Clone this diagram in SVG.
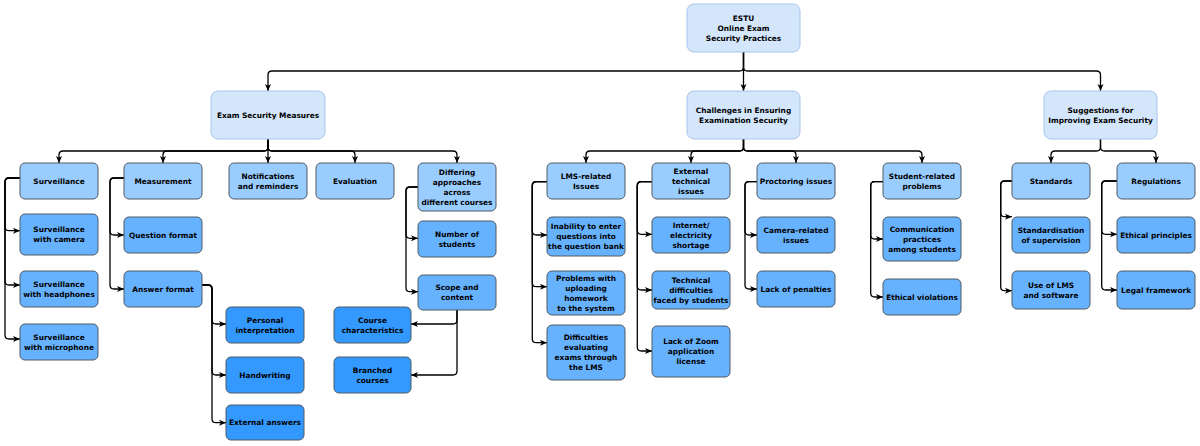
<svg xmlns="http://www.w3.org/2000/svg" width="1200" height="446" viewBox="0 0 1200 446">
<defs>
<marker id="arr" markerUnits="userSpaceOnUse" markerWidth="8" markerHeight="7" refX="7" refY="3" orient="auto" overflow="visible">
<path d="M0,0 L7,3 L0,6 L1.8,3 Z" fill="#000"/>
</marker>
<style>
.top{fill:#d4e6fc;stroke:#a9c4eb;stroke-width:1}
.l2{fill:#99ccff;stroke:#4f5b66;stroke-width:1}
.l3{fill:#66b2ff;stroke:#4f5b66;stroke-width:1}
.l4{fill:#3399ff;stroke:#4f5b66;stroke-width:1}
text{font-family:"DejaVu Sans","Verdana",sans-serif;font-weight:bold;font-size:7.4px;fill:#000;text-anchor:middle}
#connectors path{fill:none;stroke:#000;stroke-width:1.3;marker-end:url(#arr)}
</style>
</defs>
<rect width="1200" height="446" fill="#fff"/>

<g id="connectors">
<path d="M743.5,52 V67 Q743.5,71 739.5,71 H272 Q268,71 268,75 V91"/>
<path d="M743.5,52 V91"/>
<path d="M743.5,52 V67 Q743.5,71 747.5,71 H1096.5 Q1100.5,71 1100.5,75 V91"/>

<path d="M268,139 V147 Q268,151 264,151 H63 Q59,151 59,155 V163"/>
<path d="M268,139 V147 Q268,151 264,151 H167 Q163,151 163,155 V163"/>
<path d="M268,139 V163"/>
<path d="M268,139 V147 Q268,151 272,151 H351 Q355,151 355,155 V163"/>
<path d="M268,139 V147 Q268,151 272,151 H453 Q457,151 457,155 V163"/>

<path d="M20,178 H9 Q5,178 5,182 V226.7 Q5,230.7 9,230.7 H20"/>
<path d="M20,178 H9 Q5,178 5,182 V281 Q5,285 9,285 H20"/>
<path d="M20,178 H9 Q5,178 5,182 V335 Q5,339 9,339 H20"/>

<path d="M124,178 H114 Q110,178 110,182 V231 Q110,235 114,235 H124"/>
<path d="M124,178 H114 Q110,178 110,182 V285 Q110,289 114,289 H124"/>

<path d="M202,285 H208 Q212,285 212,289 V320 Q212,324 216,324 H226"/>
<path d="M202,285 H208 Q212,285 212,289 V371 Q212,375 216,375 H226"/>
<path d="M202,285 H208 Q212,285 212,289 V418.7 Q212,422.7 216,422.7 H226"/>

<path d="M418,187 H410 Q406,187 406,191 V234.3 Q406,238.3 410,238.3 H418"/>
<path d="M418,187 H410 Q406,187 406,191 V287.7 Q406,291.7 410,291.7 H418"/>

<path d="M457,310 V320 Q457,324 453,324 H411"/>
<path d="M457,310 V371 Q457,375 453,375 H411"/>

<path d="M743.5,139 V147 Q743.5,151 739.5,151 H590 Q586,151 586,155 V163"/>
<path d="M743.5,139 V147 Q743.5,151 739.5,151 H695 Q691,151 691,155 V163"/>
<path d="M743.5,139 V147 Q743.5,151 747.5,151 H792 Q796,151 796,155 V163"/>
<path d="M743.5,139 V147 Q743.5,151 747.5,151 H918 Q922,151 922,155 V163"/>

<path d="M547,181.7 H536.3 Q532.3,181.7 532.3,185.7 V231 Q532.3,235 536.3,235 H547"/>
<path d="M547,181.7 H536.3 Q532.3,181.7 532.3,185.7 V282.7 Q532.3,286.7 536.3,286.7 H547"/>
<path d="M547,181.7 H536.3 Q532.3,181.7 532.3,185.7 V338.7 Q532.3,342.7 536.3,342.7 H547"/>

<path d="M652,181.7 H641.3 Q637.3,181.7 637.3,185.7 V230.3 Q637.3,234.3 641.3,234.3 H652"/>
<path d="M652,181.7 H641.3 Q637.3,181.7 637.3,185.7 V286 Q637.3,290 641.3,290 H652"/>
<path d="M652,181.7 H641.3 Q637.3,181.7 637.3,185.7 V347 Q637.3,351 641.3,351 H652"/>

<path d="M757,181.7 H749 Q745,181.7 745,185.7 V231 Q745,235 749,235 H757"/>
<path d="M757,181.7 H749 Q745,181.7 745,185.7 V285 Q745,289 749,289 H757"/>

<path d="M883,181.7 H874.7 Q870.7,181.7 870.7,185.7 V235 Q870.7,239 874.7,239 H883"/>
<path d="M883,181.7 H874.7 Q870.7,181.7 870.7,185.7 V293 Q870.7,297 874.7,297 H883"/>

<path d="M1100.5,139 V147 Q1100.5,151 1096.5,151 H1055 Q1051,151 1051,155 V163"/>
<path d="M1100.5,139 V147 Q1100.5,151 1104.5,151 H1152 Q1156,151 1156,155 V163"/>

<path d="M1012,181 H1004.7 Q1000.7,181 1000.7,185 V212.7 Q1000.7,216.7 1004.7,216.7 H1012"/>
<path d="M1012,181 H1004.7 Q1000.7,181 1000.7,185 V286.7 Q1000.7,290.7 1004.7,290.7 H1012"/>

<path d="M1117,181 H1105.7 Q1101.7,181 1101.7,185 V230.3 Q1101.7,234.3 1105.7,234.3 H1117"/>
<path d="M1117,181 H1105.7 Q1101.7,181 1101.7,185 V286 Q1101.7,290 1105.7,290 H1117"/>
</g>

<g id="root"><rect class="top" x="687" y="4" width="113" height="48" rx="7"/><text><tspan x="743.5" y="20.7">ESTU</tspan><tspan x="743.5" y="30.7">Online Exam</tspan><tspan x="743.5" y="40.7">Security Practices</tspan></text></g>

<g id="esm"><rect class="top" x="211" y="91" width="114" height="48" rx="7"/><text x="268" y="117.7">Exam Security Measures</text></g>
<g id="challenges"><rect class="top" x="687" y="91" width="113" height="48" rx="7"/><text><tspan x="743.5" y="112.7">Challenges in Ensuring</tspan><tspan x="743.5" y="122.7">Examination Security</tspan></text></g>
<g id="suggestions"><rect class="top" x="1044" y="91" width="113" height="48" rx="7"/><text><tspan x="1100.5" y="112.7">Suggestions for</tspan><tspan x="1100.5" y="122.7">Improving Exam Security</tspan></text></g>

<g id="surveillance"><rect class="l2" x="20" y="163" width="78" height="36" rx="5"/><text x="59" y="183.7">Surveillance</text></g>
<g id="measurement"><rect class="l2" x="124" y="163" width="78" height="36" rx="5"/><text x="163" y="183.7">Measurement</text></g>
<g id="notifications"><rect class="l2" x="229" y="163" width="78" height="36" rx="5"/><text><tspan x="268" y="178.7">Notifications</tspan><tspan x="268" y="188.7">and reminders</tspan></text></g>
<g id="evaluation"><rect class="l2" x="316" y="163" width="78" height="36" rx="5"/><text x="355" y="183.7">Evaluation</text></g>
<g id="differing"><rect class="l2" x="418" y="163" width="78" height="48" rx="5"/><text><tspan x="457" y="174.7">Differing</tspan><tspan x="457" y="184.7">approaches</tspan><tspan x="457" y="194.7">across</tspan><tspan x="457" y="204.7">different courses</tspan></text></g>
<g id="lms"><rect class="l2" x="547" y="163" width="78" height="36" rx="5"/><text><tspan x="586" y="178.7">LMS-related</tspan><tspan x="586" y="188.7">Issues</tspan></text></g>
<g id="external"><rect class="l2" x="652" y="163" width="78" height="36" rx="5"/><text><tspan x="691" y="173.7">External</tspan><tspan x="691" y="183.7">technical</tspan><tspan x="691" y="193.7">issues</tspan></text></g>
<g id="proctoring"><rect class="l2" x="757" y="163" width="78" height="36" rx="5"/><text x="796" y="183.7">Proctoring issues</text></g>
<g id="student"><rect class="l2" x="883" y="163" width="78" height="36" rx="5"/><text><tspan x="922" y="178.7">Student-related</tspan><tspan x="922" y="188.7">problems</tspan></text></g>
<g id="standards"><rect class="l2" x="1012" y="163" width="78" height="36" rx="5"/><text x="1051" y="183.7">Standards</text></g>
<g id="regulations"><rect class="l2" x="1117" y="163" width="78" height="36" rx="5"/><text x="1156" y="183.7">Regulations</text></g>

<g id="swcamera"><rect class="l3" x="20" y="214" width="78" height="41" rx="5"/><text><tspan x="59" y="232.2">Surveillance</tspan><tspan x="59" y="242.2">with camera</tspan></text></g>
<g id="swheadphones"><rect class="l3" x="20" y="271" width="78" height="36" rx="5"/><text><tspan x="59" y="286.7">Surveillance</tspan><tspan x="59" y="296.7">with headphones</tspan></text></g>
<g id="swmicrophone"><rect class="l3" x="20" y="324" width="78" height="36" rx="5"/><text><tspan x="59" y="339.7">Surveillance</tspan><tspan x="59" y="349.7">with microphone</tspan></text></g>
<g id="questionformat"><rect class="l3" x="124" y="217" width="78" height="36" rx="5"/><text x="163" y="237.7">Question format</text></g>
<g id="answerformat"><rect class="l3" x="124" y="271" width="78" height="36" rx="5"/><text x="163" y="291.7">Answer format</text></g>
<g id="numberstudents"><rect class="l3" x="418" y="221" width="78" height="36" rx="5"/><text><tspan x="457" y="236.7">Number of</tspan><tspan x="457" y="246.7">students</tspan></text></g>
<g id="scope"><rect class="l3" x="418" y="275" width="78" height="35" rx="5"/><text><tspan x="457" y="290.2">Scope and</tspan><tspan x="457" y="300.2">content</tspan></text></g>
<g id="inability"><rect class="l3" x="547" y="217" width="78" height="39" rx="5"/><text><tspan x="586" y="229.2">Inability to enter</tspan><tspan x="586" y="239.2">questions into</tspan><tspan x="586" y="249.2">the question bank</tspan></text></g>
<g id="uploading"><rect class="l3" x="547" y="271" width="78" height="44" rx="5"/><text><tspan x="586" y="280.7">Problems with</tspan><tspan x="586" y="290.7">uploading</tspan><tspan x="586" y="300.7">homework</tspan><tspan x="586" y="310.7">to the system</tspan></text></g>
<g id="evaluating"><rect class="l3" x="547" y="325" width="78" height="55" rx="5"/><text><tspan x="586" y="340.2">Difficulties</tspan><tspan x="586" y="350.2">evaluating</tspan><tspan x="586" y="360.2">exams through</tspan><tspan x="586" y="370.2">the LMS</tspan></text></g>
<g id="internet"><rect class="l3" x="652" y="217" width="78" height="36" rx="5"/><text><tspan x="691" y="227.7">Internet/</tspan><tspan x="691" y="237.7">electricity</tspan><tspan x="691" y="247.7">shortage</tspan></text></g>
<g id="technical"><rect class="l3" x="652" y="271" width="78" height="38" rx="5"/><text><tspan x="691" y="282.7">Technical</tspan><tspan x="691" y="292.7">difficulties</tspan><tspan x="691" y="302.7">faced by students</tspan></text></g>
<g id="zoom"><rect class="l3" x="652" y="326" width="78" height="51" rx="5"/><text><tspan x="691" y="344.2">Lack of Zoom</tspan><tspan x="691" y="354.2">application</tspan><tspan x="691" y="364.2">license</tspan></text></g>
<g id="camera"><rect class="l3" x="757" y="217" width="78" height="36" rx="5"/><text><tspan x="796" y="232.7">Camera-related</tspan><tspan x="796" y="242.7">issues</tspan></text></g>
<g id="penalties"><rect class="l3" x="757" y="271" width="78" height="36" rx="5"/><text x="796" y="291.7">Lack of penalties</text></g>
<g id="communication"><rect class="l3" x="883" y="217" width="78" height="44" rx="5"/><text><tspan x="922" y="231.7">Communication</tspan><tspan x="922" y="241.7">practices</tspan><tspan x="922" y="251.7">among students</tspan></text></g>
<g id="violations"><rect class="l3" x="883" y="279" width="78" height="36" rx="5"/><text x="922" y="299.7">Ethical violations</text></g>
<g id="standardisation"><rect class="l3" x="1012" y="217" width="78" height="36" rx="5"/><text><tspan x="1051" y="232.7">Standardisation</tspan><tspan x="1051" y="242.7">of supervision</tspan></text></g>
<g id="uselms"><rect class="l3" x="1012" y="271" width="78" height="38" rx="5"/><text><tspan x="1051" y="287.7">Use of LMS</tspan><tspan x="1051" y="297.7">and software</tspan></text></g>
<g id="ethicalprinciples"><rect class="l3" x="1117" y="217" width="78" height="36" rx="5"/><text x="1156" y="237.7">Ethical principles</text></g>
<g id="legal"><rect class="l3" x="1117" y="271" width="78" height="38" rx="5"/><text x="1156" y="292.7">Legal framework</text></g>

<g id="personal"><rect class="l4" x="226" y="307" width="78" height="36" rx="5"/><text><tspan x="265" y="322.7">Personal</tspan><tspan x="265" y="332.7">interpretation</tspan></text></g>
<g id="handwriting"><rect class="l4" x="226" y="357" width="78" height="36" rx="5"/><text x="265" y="377.7">Handwriting</text></g>
<g id="externalanswers"><rect class="l4" x="226" y="405" width="78" height="35" rx="5"/><text x="265" y="425.2">External answers</text></g>
<g id="coursechar"><rect class="l4" x="334" y="307" width="77" height="36" rx="5"/><text><tspan x="372.5" y="322.7">Course</tspan><tspan x="372.5" y="332.7">characteristics</tspan></text></g>
<g id="branched"><rect class="l4" x="334" y="357" width="77" height="36" rx="5"/><text><tspan x="372.5" y="372.7">Branched</tspan><tspan x="372.5" y="382.7">courses</tspan></text></g>
</svg>
